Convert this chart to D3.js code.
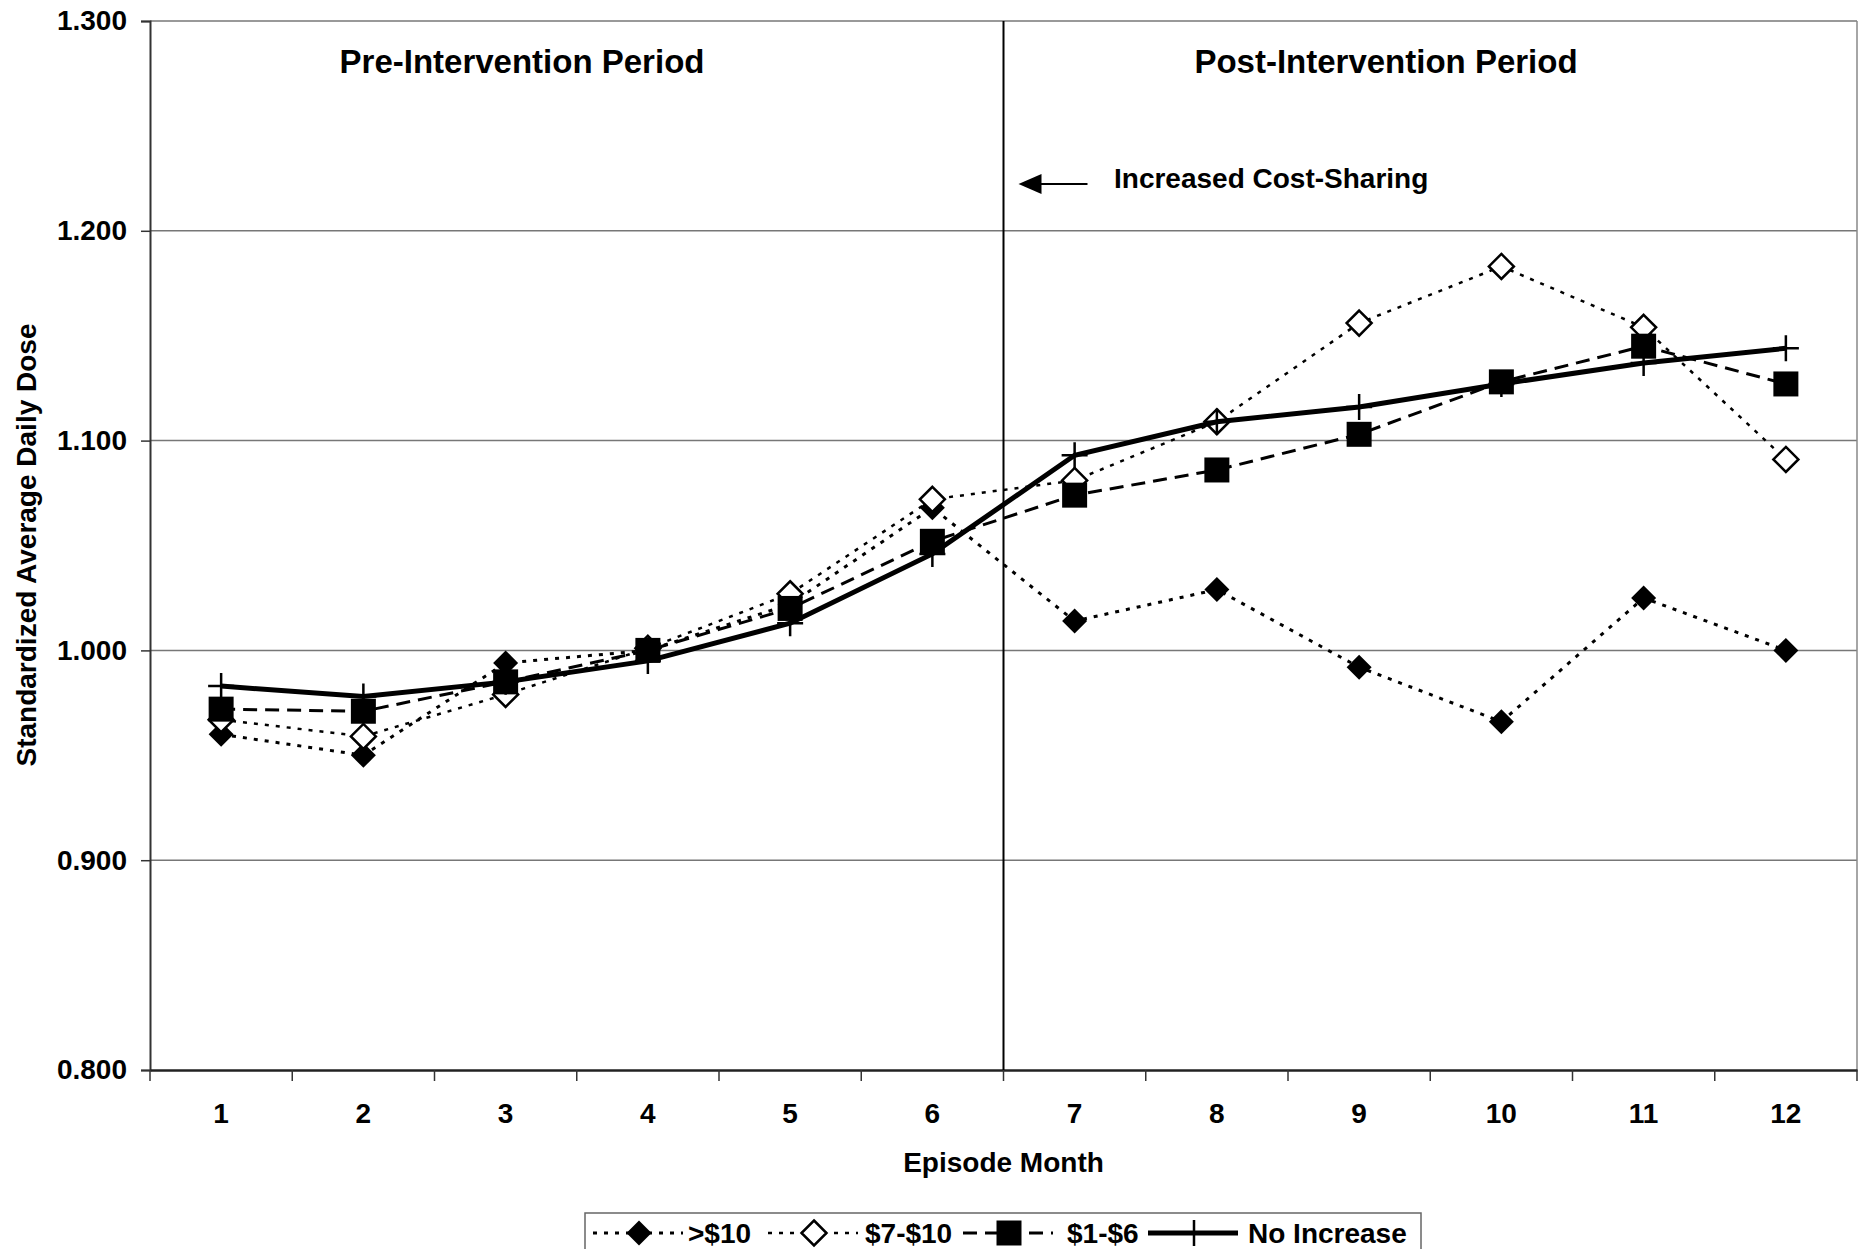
<!DOCTYPE html>
<html>
<head>
<meta charset="utf-8">
<script src="https://cdn.jsdelivr.net/npm/d3@7"></script>
<style>
  html, body { margin: 0; padding: 0; background: #fff; }
  svg { display: block; }
  text { font-family: "Liberation Sans", Arial, sans-serif; font-weight: bold; fill: #000; }
</style>
</head>
<body>
<script>
// data
var months = ['1', '2', '3', '4', '5', '6', '7', '8', '9', '10', '11', '12']
var yTicks = [0.8, 0.9, 1.0, 1.1, 1.2, 1.3]
var over10 = [0.960, 0.950, 0.994, 1.000, 1.022, 1.068, 1.014, 1.029, 0.992, 0.966, 1.025, 1.000]
var from7to10 = [0.967, 0.959, 0.979, 1.001, 1.027, 1.072, 1.081, 1.109, 1.156, 1.183, 1.154, 1.091]
var from1to6 = [0.972, 0.971, 0.985, 1.000, 1.020, 1.052, 1.074, 1.086, 1.103, 1.128, 1.145, 1.127]
var noIncrease = [0.983, 0.978, 0.985, 0.995, 1.013, 1.046, 1.093, 1.109, 1.116, 1.127, 1.137, 1.144]
var seriesNames = ['>$10', '$7-$10', '$1-$6', 'No Increase']
var periodLabels = ['Pre-Intervention Period', 'Post-Intervention Period']

var W = 1858, H = 1249
var plotL = 150, plotR = 1857, plotT = 21, plotB = 1070

var svg = d3.select('body').append('svg')
  .attr('width', W)
  .attr('height', H)

var x = d3.scaleBand().domain(months).range([plotL, plotR])
var y = d3.scaleLinear().domain([0.8, 1.3]).range([plotB, plotT])

// gridlines
svg.append('g')
  .selectAll('line').data(yTicks.slice(1)).enter()
  .append('line')
  .attr('x1', plotL).attr('x2', plotR)
  .attr('y1', function(d) { return y(d) })
  .attr('y2', function(d) { return y(d) })
  .attr('stroke', '#777')
  .attr('stroke-width', 1.5)

// right border
svg.append('line')
  .attr('x1', plotR).attr('x2', plotR)
  .attr('y1', plotT).attr('y2', plotB)
  .attr('stroke', '#888').attr('stroke-width', 1.5)

// y axis
var yAxis = svg.append('g')
  .attr('transform', 'translate(' + plotL + ',0)')
  .call(d3.axisLeft(y).tickValues(yTicks).tickFormat(d3.format('.3f')).tickSizeOuter(0).tickSize(9).tickPadding(14))
yAxis.select('.domain').attr('stroke', '#333').attr('stroke-width', 2)
yAxis.selectAll('.tick line').attr('stroke', '#333').attr('stroke-width', 1.5)
yAxis.selectAll('.tick text').attr('font-size', 28).attr('font-family', null)

// x axis: ticks at category boundaries
var xAxis = svg.append('g')
  .attr('transform', 'translate(0,' + plotB + ')')
  .call(d3.axisBottom(x).tickSize(0).tickPadding(33))
xAxis.select('.domain').attr('stroke', '#222').attr('stroke-width', 2.5)
xAxis.selectAll('.tick text').attr('font-size', 28).attr('font-family', null)
xAxis.selectAll('line.bound').data(months).enter()
  .append('line')
  .attr('class', 'bound')
  .attr('x1', function(d) { return x(d) })
  .attr('x2', function(d) { return x(d) })
  .attr('y1', 0).attr('y2', 11)
  .attr('stroke', '#333').attr('stroke-width', 1.5)
xAxis.append('line')
  .attr('x1', plotR).attr('x2', plotR).attr('y1', 0).attr('y2', 11)
  .attr('stroke', '#333').attr('stroke-width', 1.5)

// axis titles
svg.append('text')
  .attr('x', (plotL + plotR) / 2)
  .attr('y', 1172)
  .attr('text-anchor', 'middle')
  .attr('font-size', 28)
  .text('Episode Month')

svg.append('text')
  .attr('transform', 'translate(36,' + 545 + ') rotate(-90)')
  .attr('text-anchor', 'middle')
  .attr('font-size', 28)
  .text('Standardized Average Daily Dose')

// intervention divider between month 6 and 7
var divX = x('7')
svg.append('line')
  .attr('x1', divX).attr('x2', divX)
  .attr('y1', plotT).attr('y2', plotB)
  .attr('stroke', '#000').attr('stroke-width', 2)

svg.append('text')
  .attr('x', 522).attr('y', 73)
  .attr('text-anchor', 'middle')
  .attr('font-size', 33)
  .text(periodLabels[0])
svg.append('text')
  .attr('x', 1386).attr('y', 73)
  .attr('text-anchor', 'middle')
  .attr('font-size', 33)
  .text(periodLabels[1])

// arrow + note
svg.append('line')
  .attr('x1', divX + 36).attr('x2', divX + 84)
  .attr('y1', 184).attr('y2', 184)
  .attr('stroke', '#000').attr('stroke-width', 2)
svg.append('path')
  .attr('d', 'M' + (divX + 15) + ',184 L' + (divX + 38) + ',174 L' + (divX + 38) + ',194 Z')
  .attr('fill', '#000')
svg.append('text')
  .attr('x', 1114).attr('y', 188)
  .attr('font-size', 28)
  .text('Increased Cost-Sharing')

// markers
function diamondPath(s) {
  return 'M0,' + (-s) + 'L' + s + ',0L0,' + s + 'L' + (-s) + ',0Z'
}
function squarePath(s) {
  return 'M' + (-s) + ',' + (-s) + 'H' + s + 'V' + s + 'H' + (-s) + 'Z'
}
function plusPath(s) {
  return 'M' + (-s) + ',0H' + s + 'M0,' + (-s) + 'V' + s
}

var series = [
  { name: seriesNames[0], values: over10, dash: '4,7', width: 3, marker: 'fdiamond' },
  { name: seriesNames[1], values: from7to10, dash: '4,7', width: 2.5, marker: 'odiamond' },
  { name: seriesNames[2], values: from1to6, dash: '14,8', width: 3, marker: 'square' },
  { name: seriesNames[3], values: noIncrease, dash: null, width: 5, marker: 'plus' }
]

function drawMarker(sel, kind) {
  if (kind === 'fdiamond') {
    sel.append('path').attr('d', diamondPath(12.5)).attr('fill', '#000')
  } else if (kind === 'odiamond') {
    sel.append('path').attr('d', diamondPath(12.5)).attr('fill', '#fff')
      .attr('stroke', '#000').attr('stroke-width', 2.5)
  } else if (kind === 'square') {
    sel.append('path').attr('d', squarePath(12.5)).attr('fill', '#000')
  } else {
    sel.append('path').attr('d', plusPath(13)).attr('fill', 'none')
      .attr('stroke', '#000').attr('stroke-width', 2.5)
  }
}

var cx = function(d, i) { return x(months[i]) + x.bandwidth() / 2 }
var line = d3.line()
  .x(cx)
  .y(function(d) { return y(d) })

series.forEach(function(s) {
  var g = svg.append('g')
  g.append('path')
    .datum(s.values)
    .attr('d', line)
    .attr('fill', 'none')
    .attr('stroke', '#000')
    .attr('stroke-width', s.width)
    .attr('stroke-dasharray', s.dash)
  g.selectAll('g.m').data(s.values).enter()
    .append('g')
    .attr('class', 'm')
    .attr('transform', function(d, i) { return 'translate(' + cx(d, i) + ',' + y(d) + ')' })
    .each(function() { drawMarker(d3.select(this), s.marker) })
})

// legend (runs off the bottom edge)
var lg = svg.append('g')
lg.append('rect')
  .attr('x', 585).attr('y', 1213)
  .attr('width', 836).attr('height', 60)
  .attr('fill', '#fff').attr('stroke', '#666').attr('stroke-width', 1.5)

var sampleX = [593, 768, 963, 1148]
var textX = [688, 865, 1067, 1248]
var ly = 1233
series.forEach(function(s, i) {
  var item = lg.append('g')
  item.append('line')
    .attr('x1', sampleX[i]).attr('x2', sampleX[i] + 90)
    .attr('y1', ly).attr('y2', ly)
    .attr('stroke', '#000')
    .attr('stroke-width', s.width)
    .attr('stroke-dasharray', s.dash)
  var m = item.append('g').attr('transform', 'translate(' + (sampleX[i] + 46) + ',' + ly + ')')
  drawMarker(m, s.marker)
  item.append('text')
    .attr('x', textX[i]).attr('y', ly + 10)
    .attr('font-size', 28)
    .text(s.name)
})
</script>
</body>
</html>
